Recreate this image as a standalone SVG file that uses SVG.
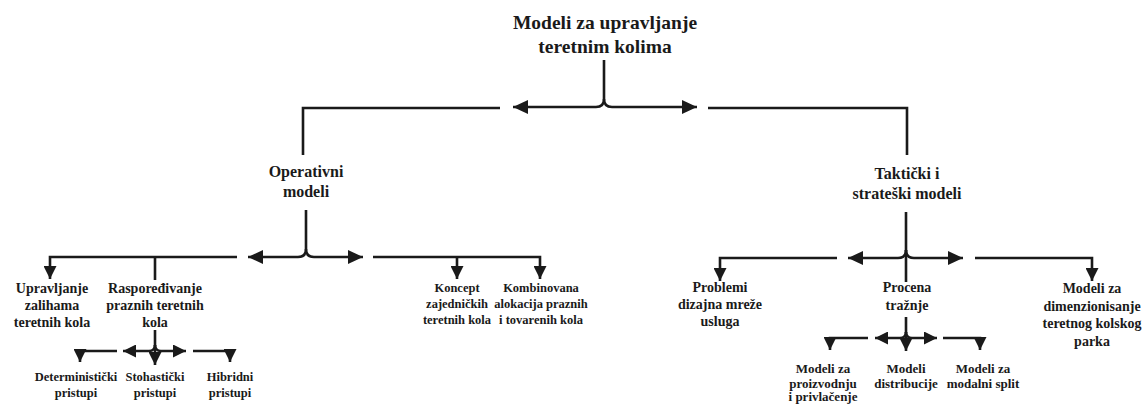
<svg xmlns="http://www.w3.org/2000/svg" width="1145" height="405" viewBox="0 0 1145 405">
<style>
text{font-family:"Liberation Serif","Times New Roman",serif;font-weight:bold;fill:#1a1a1a;text-anchor:middle}
.t0{font-size:19.5px}
.t1{font-size:16px}
.t2{font-size:14px}
.t2s{font-size:12.5px}
.t3{font-size:12.5px}
.t4{font-size:13px}
.c path{fill:none;stroke:#1a1a1a;stroke-width:2.6}
</style>
<defs>
<marker id="ab" markerUnits="userSpaceOnUse" markerWidth="16" markerHeight="14" refX="15" refY="7" orient="auto"><path d="M0,0 L15,7 L0,14 z" fill="#1a1a1a"/></marker>
<marker id="as" markerUnits="userSpaceOnUse" markerWidth="14" markerHeight="13" refX="13" refY="6.5" orient="auto"><path d="M0,0 L13,6.5 L0,13 z" fill="#1a1a1a"/></marker>
</defs>
<rect width="1145" height="405" fill="#fff"/>
<g id="root"><text class="t0" x="605" y="29">Modeli za upravljanje</text><text class="t0" x="605" y="53">teretnim kolima</text></g>
<g id="operativni"><text class="t1" x="306" y="177">Operativni</text><text class="t1" x="306" y="197">modeli</text></g>
<g id="takticki"><text class="t1" x="907" y="179">Taktički i</text><text class="t1" x="907" y="199">strateški modeli</text></g>
<g id="upravljanje"><text class="t2" x="52" y="293">Upravljanje</text><text class="t2" x="52" y="310">zalihama</text><text class="t2" x="52" y="327">teretnih kola</text></g>
<g id="rasporedjivanje"><text class="t2" x="155" y="293">Raspoređivanje</text><text class="t2" x="155" y="310">praznih teretnih</text><text class="t2" x="155" y="327">kola</text></g>
<g id="koncept"><text class="t2s" x="457" y="292">Koncept</text><text class="t2s" x="457" y="308">zajedničkih</text><text class="t2s" x="457" y="324">teretnih kola</text></g>
<g id="kombinovana"><text class="t2s" x="541" y="292">Kombinovana</text><text class="t2s" x="541" y="308">alokacija praznih</text><text class="t2s" x="541" y="324">i tovarenih kola</text></g>
<g id="deterministicki"><text class="t3" x="76" y="381">Deterministički</text><text class="t3" x="76" y="397">pristupi</text></g>
<g id="stohasticki"><text class="t3" x="155" y="381">Stohastički</text><text class="t3" x="155" y="397">pristupi</text></g>
<g id="hibridni"><text class="t3" x="230" y="381">Hibridni</text><text class="t3" x="230" y="397">pristupi</text></g>
<g id="problemi"><text class="t2" x="720" y="292">Problemi</text><text class="t2" x="720" y="309">dizajna mreže</text><text class="t2" x="720" y="326">usluga</text></g>
<g id="procena"><text class="t2" x="907" y="292">Procena</text><text class="t2" x="907" y="310">tražnje</text></g>
<g id="dimenzionisanje"><text class="t2" x="1092" y="293">Modeli za</text><text class="t2" x="1092" y="311">dimenzionisanje</text><text class="t2" x="1092" y="328">teretnog kolskog</text><text class="t2" x="1092" y="346">parka</text></g>
<g id="proizvodnja"><text class="t4" x="823" y="373">Modeli za</text><text class="t4" x="823" y="388">proizvodnju</text><text class="t4" x="823" y="401">i privlačenje</text></g>
<g id="distribucija"><text class="t4" x="906" y="373">Modeli</text><text class="t4" x="906" y="388">distribucije</text></g>
<g id="modalni"><text class="t4" x="983" y="373">Modeli za</text><text class="t4" x="983" y="388">modalni split</text></g>
<g id="connectors" class="c">
<path d="M604,60 V99 Q604,107 596,107 H513" marker-end="url(#ab)"/>
<path d="M604,99 Q604,107 612,107 H697" marker-end="url(#ab)"/>
<path d="M500,108 H303 V155"/>
<path d="M708,108 H907 V155"/>
<path d="M306,210 V249 Q306,257 298,257 H248" marker-end="url(#ab)"/>
<path d="M306,249 Q306,257 314,257 H363" marker-end="url(#ab)"/>
<path d="M237,257 H50 V279" marker-end="url(#as)"/>
<path d="M155,257 V280"/>
<path d="M373,257 H540 V279" marker-end="url(#as)"/>
<path d="M457,257 V279" marker-end="url(#as)"/>
<path d="M155,330 V365" marker-end="url(#as)"/>
<path d="M155,345 Q155,351 149,351 H123" marker-end="url(#as)"/>
<path d="M155,345 Q155,351 161,351 H186" marker-end="url(#as)"/>
<path d="M117,351 H80 V362" marker-end="url(#as)"/>
<path d="M193,351 H230 V362" marker-end="url(#as)"/>
<path d="M906,212 V282"/>
<path d="M906,250 Q906,258 898,258 H848" marker-end="url(#ab)"/>
<path d="M906,250 Q906,258 914,258 H963" marker-end="url(#ab)"/>
<path d="M837,258 H720 V281" marker-end="url(#as)"/>
<path d="M975,258 H1092 V281" marker-end="url(#as)"/>
<path d="M906,317 V351" marker-end="url(#as)"/>
<path d="M906,332 Q906,338 900,338 H875" marker-end="url(#as)"/>
<path d="M906,332 Q906,338 912,338 H937" marker-end="url(#as)"/>
<path d="M868,338 H830 V350" marker-end="url(#as)"/>
<path d="M943,338 H980 V350" marker-end="url(#as)"/>
</g>
</svg>
